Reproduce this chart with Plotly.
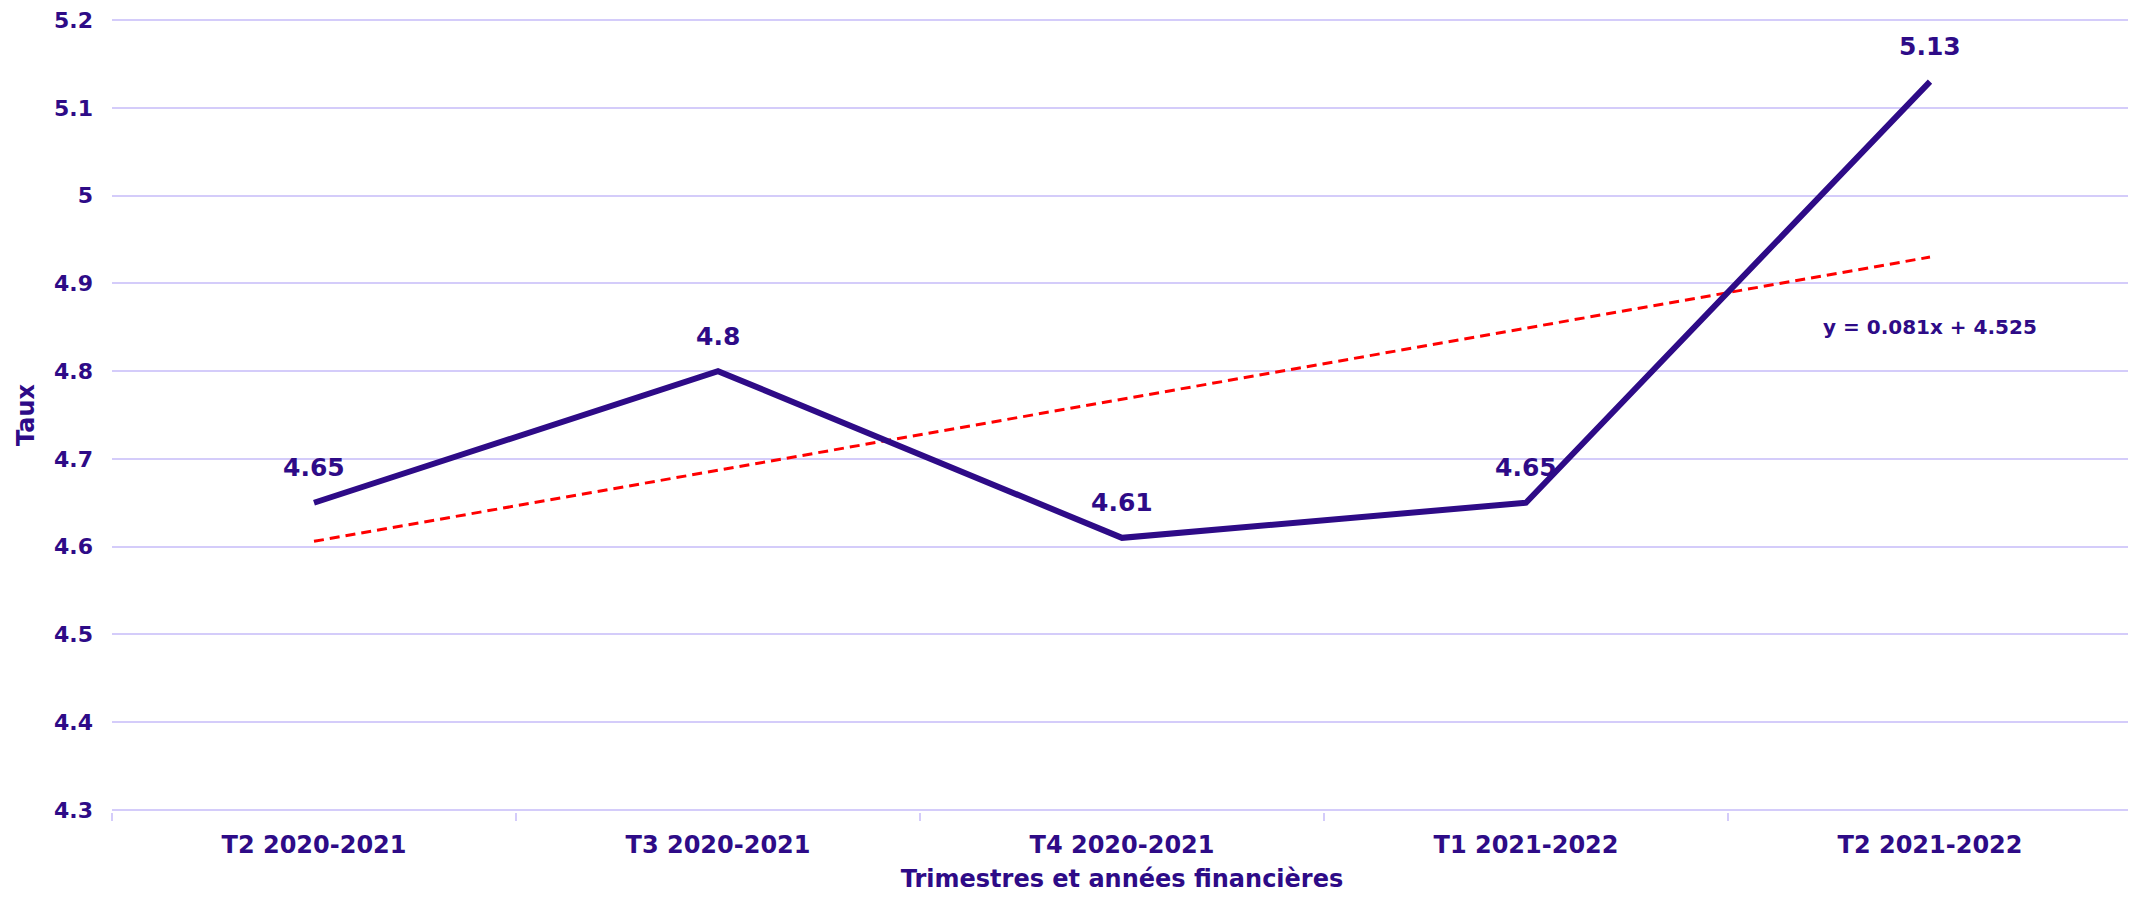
import numpy as np
import plotly.graph_objects as go

categories = ["T2 2020-2021", "T3 2020-2021", "T4 2020-2021", "T1 2021-2022", "T2 2021-2022"]
taux = [4.65, 4.8, 4.61, 4.65, 5.13]
y_ticks = [4.3, 4.4, 4.5, 4.6, 4.7, 4.8, 4.9, 5.0, 5.1, 5.2]
y_ticktext = ["4.3", "4.4", "4.5", "4.6", "4.7", "4.8", "4.9", "5", "5.1", "5.2"]

DARK = "#2E0B87"
GRID = "#D4CCFA"
FONT = "DejaVu Sans"

# linear trend (Excel-style, x = 1..n)
xs = np.arange(1, len(taux) + 1)
slope, intercept = np.polyfit(xs, taux, 1)
trend = slope * xs + intercept

fig = go.Figure()
fig.add_trace(go.Scatter(
    x=categories, y=trend, mode="lines",
    line=dict(color="#FF0000", width=3, dash="10px,6px"),
    hoverinfo="skip", showlegend=False,
))
fig.add_trace(go.Scatter(
    x=categories, y=taux, mode="lines",
    line=dict(color=DARK, width=6),
    showlegend=False,
))

for c, v in zip(categories, taux):
    fig.add_annotation(
        x=c, y=v, xref="x", yref="y", text=f"{v:g}", showarrow=False,
        yshift=35, font=dict(family=FONT, size=25, color=DARK, weight="bold"),
    )

fig.add_annotation(
    x=categories[-1], y=4.85, xref="x", yref="y",
    text=f"y = {slope:.3f}x + {intercept:.3f}", showarrow=False,
    font=dict(family=FONT, size=20, color=DARK, weight="bold"),
)

fig.update_layout(
    width=2124, height=885,
    margin=dict(l=104, r=0, t=10, b=81),
    plot_bgcolor="white", paper_bgcolor="white",
    font=dict(family=FONT, color=DARK),
)
fig.update_xaxes(
    type="category", tickson="boundaries", range=[-0.5, 4.5],
    ticks="outside", ticklen=8,
    tickcolor=GRID, tickwidth=2, showgrid=False,
    showline=False, automargin=False,
    ticklabelstandoff=16,
    tickfont=dict(family=FONT, size=24, color=DARK, weight="bold"),
    title=dict(text="Trimestres et années financières", standoff=22,
               font=dict(family=FONT, size=24, color=DARK, weight="bold")),
)
fig.update_yaxes(
    range=[4.2975, 5.2025], tickvals=y_ticks, ticktext=y_ticktext,
    showgrid=True, gridcolor=GRID, gridwidth=2, zeroline=False,
    showline=False, ticklabelstandoff=18, ticklabeloverflow="allow",
    tickfont=dict(family=FONT, size=22, color=DARK, weight="bold"),
    title=dict(text="Taux", standoff=12,
               font=dict(family=FONT, size=24, color=DARK, weight="bold")),
)

fig.write_html("out.html")
